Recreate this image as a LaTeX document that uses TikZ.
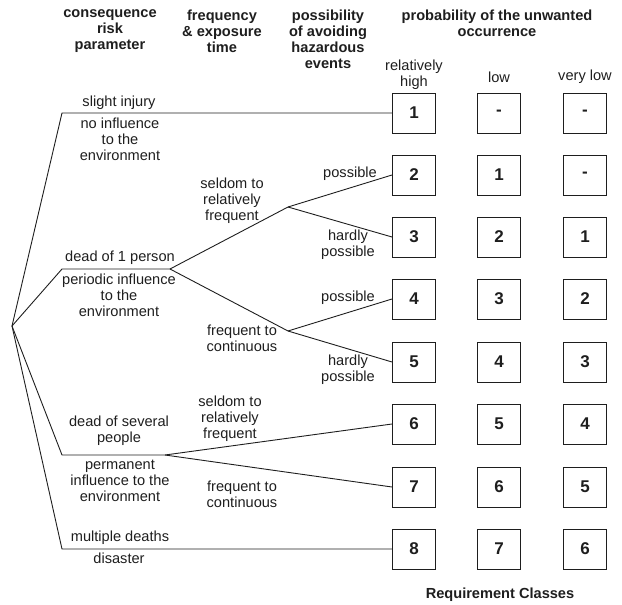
\documentclass[tikz,border=0pt]{standalone}
\usepackage{fontspec}
\setmainfont{Liberation Sans}
\definecolor{ink}{HTML}{1E1E1E}
\begin{document}
\begin{tikzpicture}[x=1pt,y=-1pt,
  lbl/.style={font=\fontsize{14.6}{16}\selectfont, align=center, inner sep=0pt, text=ink},
  hdr/.style={font=\fontsize{14.6}{16}\selectfont\bfseries, align=center, inner sep=0pt, text=ink},
  cls/.style={draw=ink, line width=1pt, minimum width=43pt, minimum height=40pt, inner sep=0pt, font=\fontsize{17}{17}\selectfont\bfseries, text=ink},
  wire/.style={draw=ink, line width=0.9pt, line join=round}]
\useasboundingbox (0,0) rectangle (622,605);
% requirement class boxes
\foreach \r/\y/\a/\b/\c in {1/113/1/-/-, 2/175/2/1/-, 3/237/3/2/1, 4/299/4/3/2, 5/362/5/4/3, 6/424/6/5/4, 7/487/7/6/5, 8/549/8/7/6}{
  \node[cls] (b\r-1) at (414,\y) {\a};
  \node[cls] (b\r-2) at (499,\y) {\b};
  \node[cls] (b\r-3) at (585,\y) {\c};
}
% tree
\coordinate (root) at (12,326);
\coordinate (k1) at (62,113);
\coordinate (k2) at (62,269);
\coordinate (k3) at (62,455);
\coordinate (k4) at (62,549);
\coordinate (f2) at (170,269);
\coordinate (f3) at (165,455);
\coordinate (p1) at (288,207);
\coordinate (p2) at (288,331);
\draw[wire] (root) -- (k1) -- (b1-1.west);
\draw[wire] (root) -- (k2) -- (f2) -- (p1) -- (b2-1.west);
\draw[wire] (p1) -- (b3-1.west);
\draw[wire] (f2) -- (p2) -- (b4-1.west);
\draw[wire] (p2) -- (b5-1.west);
\draw[wire] (root) -- (k3) -- (f3) -- (b6-1.west);
\draw[wire] (f3) -- (b7-1.west);
\draw[wire] (root) -- (k4) -- (b8-1.west);
% labels
\node[lbl] (l1a) at (119,103) {slight injury};
\node[lbl] (l1b) at (120,139) {no influence\\to the\\environment};
\node[lbl] (l2a) at (120,258) {dead of 1 person};
\node[lbl] (l2b) at (119,295) {periodic influence\\to the\\environment};
\node[lbl] (l3a) at (119,431) {dead of several\\people};
\node[lbl] (l3b) at (120,481) {permanent\\influence to the\\environment};
\node[lbl] (l4a) at (120,538) {multiple deaths};
\node[lbl] (l4b) at (119,558) {disaster};
\node[lbl] (q1) at (232,201) {seldom to\\relatively\\frequent};
\node[lbl] (q2) at (242,338) {frequent to\\continuous};
\node[lbl] (q3) at (230,419) {seldom to\\relatively\\frequent};
\node[lbl] (q4) at (242,494) {frequent to\\continuous};
\node[lbl] (v1) at (350,174) {possible};
\node[lbl] (v2) at (348,245) {hardly\\possible};
\node[lbl] (v3) at (348,298) {possible};
\node[lbl] (v4) at (348,370) {hardly\\possible};
% headers
\node[hdr] (h1) at (110,31) {consequence\\risk\\parameter};
\node[hdr] (h2) at (222,31) {frequency\\\& exposure\\time};
\node[hdr] (h3) at (328,39) {possibility\\of avoiding\\hazardous\\events};
\node[hdr] (h4) at (497,23) {probability of the unwanted\\occurrence};
\node[lbl] (c1) at (414,75) {relatively\\high};
\node[lbl] (c2) at (499,77) {low};
\node[lbl] (c3) at (585,77) {very low};
\node[hdr] (rc) at (500,595) {Requirement Classes};
\end{tikzpicture}
\end{document}
